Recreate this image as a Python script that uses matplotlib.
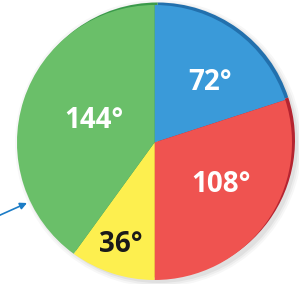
import matplotlib.pyplot as plt

# pie data (degrees)
labels = ["72°", "108°", "36°", "144°"]
angles = [72, 108, 36, 144]
colors = ["#3a9ad9", "#ef5350", "#fdef4f", "#6abf69"]
rim_colors = ["#2270ad", "#b52430", "#d9c22a", "#3a9a4a"]
text_colors = ["white", "white", "#1a1a1a", "white"]
label_pos = [(210, 202), (221, 99), (121, 39), (94, 163)]

W, H = 299, 284
fig = plt.figure(figsize=(W / 100, H / 100), dpi=100)
ax = fig.add_axes([0, 0, 1, 1])

cx, cy, r = 154.5, 141.5, 137.5

# soft shadow
for k, a in enumerate([0.05, 0.04, 0.03]):
    circ = plt.Circle((cx + 4, cy - 1), r + 2 + 2 * k, color="black", alpha=a, lw=0)
    ax.add_patch(circ)

# darker rim (3d edge)
ax.pie(angles, colors=rim_colors, startangle=90, counterclock=False,
       radius=r, center=(cx + 3, cy + 2.5), frame=True,
       wedgeprops=dict(linewidth=0))
ax.pie(angles, colors=colors, startangle=90, counterclock=False,
       radius=r, center=(cx, cy), frame=True,
       wedgeprops=dict(linewidth=0))

for lab, (x, y), c in zip(labels, label_pos, text_colors):
    ax.text(x, y, lab, color=c, fontsize=20, fontweight="bold",
            family="Open Sans", ha="center", va="center")

ax.annotate("", xy=(27, 81), xytext=(-2, 68),
            arrowprops=dict(arrowstyle="-|>", color="#1c7cc6", lw=1.2,
                            mutation_scale=10, shrinkA=0, shrinkB=0))

ax.set_xlim(0, W)
ax.set_ylim(0, H)
ax.set_aspect("auto")
ax.axis("off")
fig.savefig("out.png", dpi=100)
